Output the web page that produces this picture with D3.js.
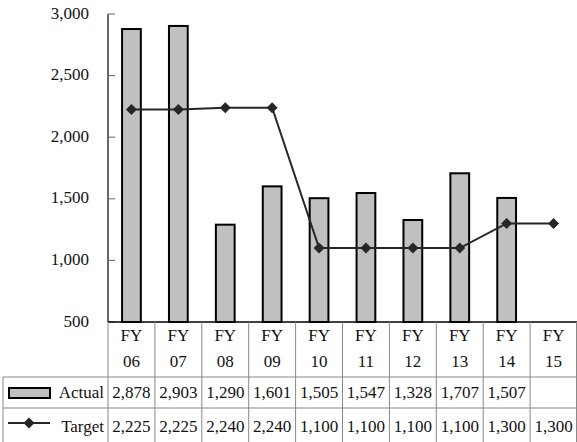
<!DOCTYPE html>
<html><head><meta charset="utf-8">
<script src="https://cdn.jsdelivr.net/npm/d3@7"></script>
<style>
html,body{margin:0;padding:0;background:#fff;}
svg{display:block;}
text{font-family:"Liberation Serif","DejaVu Serif",serif;}
</style></head>
<body><svg id="c" width="577" height="442"></svg>
<script>
const categories = ["FY 06","FY 07","FY 08","FY 09","FY 10","FY 11","FY 12","FY 13","FY 14","FY 15"];
const actual = [2878, 2903, 1290, 1601, 1505, 1547, 1328, 1707, 1507, null];
const target = [2225, 2225, 2240, 2240, 1100, 1100, 1100, 1100, 1300, 1300];
const yTicks = [500, 1000, 1500, 2000, 2500, 3000];
const seriesNames = ["Actual", "Target"];

(function () {
const svg = d3.select("#c");
const pL = 108, pR = 577, pT = 14, pB = 322;
const fmt = d3.format(",");
const FS = 17;
const FF = "'Liberation Serif', 'DejaVu Serif', serif";
const TC = "#111";

const x = d3.scaleBand().domain(categories).range([pL, pR]).padding(0);
const y = d3.scaleLinear().domain([500, 3000]).range([pB, pT]);

// y axis
const yAxis = svg.append("g");
yAxis.append("line").attr("x1", pL).attr("x2", pL).attr("y1", pT).attr("y2", pB)
  .attr("stroke", "#000").attr("stroke-width", 1.2);
yTicks.forEach(t => {
  yAxis.append("line").attr("x1", pL).attr("x2", pL + 7).attr("y1", y(t)).attr("y2", y(t))
    .attr("stroke", "#666").attr("stroke-width", 1);
  yAxis.append("text").attr("x", 89).attr("y", y(t) + 4.5).attr("text-anchor", "end")
    .attr("font-family", FF).attr("font-size", FS).attr("fill", TC).text(fmt(t));
});

// bars
const bw = x.bandwidth() * 0.4;
svg.append("g").selectAll("rect").data(categories.map((c, i) => ({c, v: actual[i]})).filter(d => d.v != null))
  .join("rect")
  .attr("x", d => x(d.c) + (x.bandwidth() - bw) / 2)
  .attr("y", d => y(d.v))
  .attr("width", bw)
  .attr("height", d => pB - y(d.v))
  .attr("fill", "#c0c0c0").attr("stroke", "#000").attr("stroke-width", 2);

// target line
const cx = c => x(c) + x.bandwidth() / 2;
const line = d3.line().x(d => cx(d.c)).y(d => y(d.v));
const tdata = categories.map((c, i) => ({c, v: target[i]}));
svg.append("path").datum(tdata).attr("d", line).attr("fill", "none")
  .attr("stroke", "#262626").attr("stroke-width", 2);
const diamond = (s) => `M0,${-s}L${s},0L0,${s}L${-s},0Z`;
svg.append("g").selectAll("path").data(tdata).join("path")
  .attr("transform", d => `translate(${cx(d.c)},${y(d.v)})`)
  .attr("d", diamond(5.5)).attr("fill", "#262626");

// x axis line
svg.append("line").attr("x1", pL).attr("x2", pR).attr("y1", pB).attr("y2", pB)
  .attr("stroke", "#000").attr("stroke-width", 1.5);

// table
const tableLeft = 3, rowY = [pB, 377, 408, 442];
const grid = svg.append("g").attr("stroke", "#888").attr("stroke-width", 1);
categories.forEach((c) => {
  grid.append("line").attr("x1", x(c)).attr("x2", x(c)).attr("y1", pB).attr("y2", 442);
});
grid.append("line").attr("x1", pR - 0.5).attr("x2", pR - 0.5).attr("y1", pB).attr("y2", 442);
grid.append("line").attr("x1", tableLeft).attr("x2", tableLeft).attr("y1", rowY[1]).attr("y2", 442);
grid.append("line").attr("x1", tableLeft).attr("x2", pR).attr("y1", rowY[1]).attr("y2", rowY[1]);
grid.append("line").attr("x1", tableLeft).attr("x2", pR).attr("y1", rowY[2]).attr("y2", rowY[2]);

// header labels
const hdr = svg.append("g").attr("font-family", FF).attr("font-size", FS).attr("fill", TC).attr("text-anchor", "middle");
categories.forEach(c => {
  const parts = c.split(" ");
  hdr.append("text").attr("x", cx(c)).attr("y", 341).text(parts[0]);
  hdr.append("text").attr("x", cx(c)).attr("y", 366.5).text(parts[1]);
});

// row values
const rows = [actual, target];
const rowBase = [398, 432];
rows.forEach((vals, r) => {
  const g = svg.append("g").attr("font-family", FF).attr("font-size", FS).attr("fill", TC).attr("text-anchor", "middle");
  vals.forEach((v, i) => {
    if (v == null) return;
    g.append("text").attr("x", cx(categories[i])).attr("y", rowBase[r]).text(fmt(v));
  });
  svg.append("text").attr("x", 104).attr("y", rowBase[r]).attr("text-anchor", "end")
    .attr("font-family", FF).attr("font-size", FS).attr("fill", TC).text(seriesNames[r]);
});

// legend keys
svg.append("rect").attr("x", 9).attr("y", 388).attr("width", 41).attr("height", 10)
  .attr("fill", "#c0c0c0").attr("stroke", "#000").attr("stroke-width", 2);
svg.append("line").attr("x1", 8).attr("x2", 50).attr("y1", 423).attr("y2", 423)
  .attr("stroke", "#262626").attr("stroke-width", 2);
svg.append("path").attr("transform", "translate(29,423)").attr("d", diamond(5.5)).attr("fill", "#262626");
})();
</script></body></html>
